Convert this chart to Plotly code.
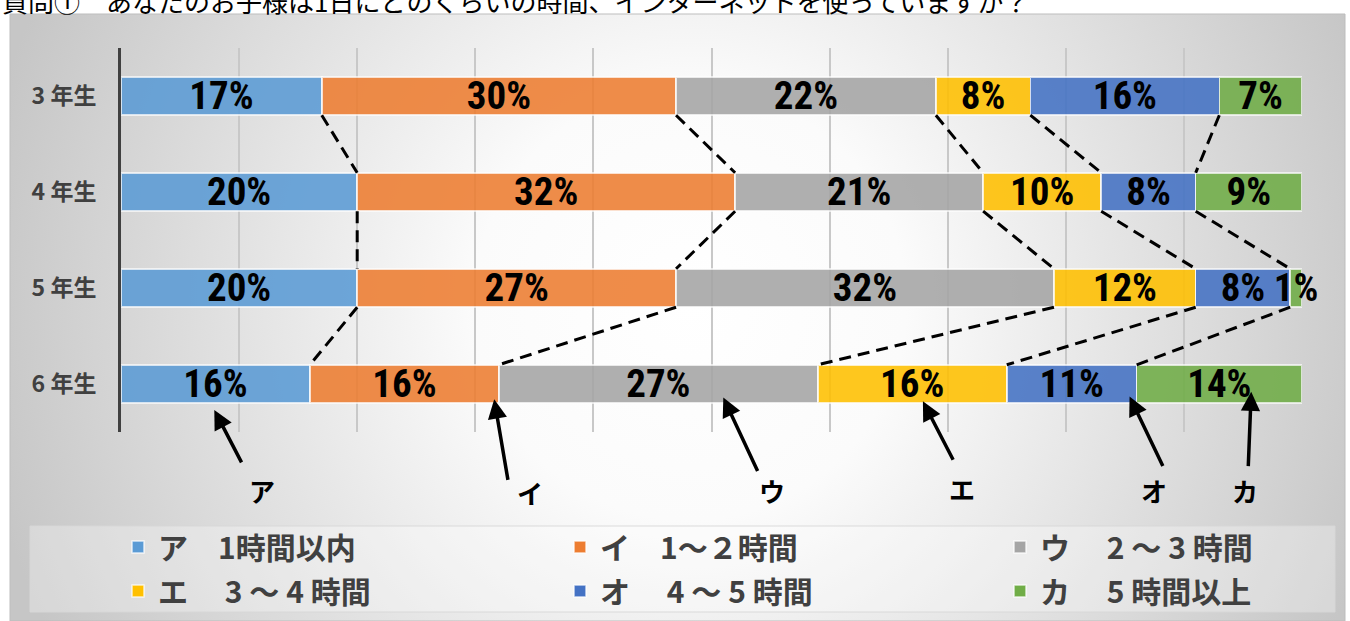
import base64
import plotly.graph_objects as go

# ---------------- data ----------------
grades = ["3 年生", "4 年生", "5 年生", "6 年生"]
categories = ["ア　1時間以内", "イ　1～２時間", "ウ　 2 ～ 3 時間",
              "エ　 3 ～ 4 時間", "オ　 4 ～ 5 時間", "カ　 5 時間以上"]
letters = ["ア", "イ", "ウ", "エ", "オ", "カ"]
within_1h = [17, 20, 20, 16]
h1_to_2 = [30, 32, 27, 16]
h2_to_3 = [22, 21, 32, 27]
h3_to_4 = [8, 10, 12, 16]
h4_to_5 = [16, 8, 8, 11]
over_5h = [7, 9, 1, 14]
title_text = "質問①　あなたのお子様は1日にどのくらいの時間、インターネットを使っていますか？"

series = [within_1h, h1_to_2, h2_to_3, h3_to_4, h4_to_5, over_5h]
colors = ["#5B9BD5", "#ED7D31", "#A5A5A5", "#FFC000", "#4472C4", "#70AD47"]

# ---------------- geometry helpers (styling) ----------------
W, H = 1350, 621
L, R, T, B = 121, 48, 48, 189
PW, PH = W - L - R, H - T - B


def pxx(px):
    return (px - L) / PW


def pxy(py):
    return (H - B - py) / PH


ypos = list(range(len(grades)))
bar_w = 0.4
legend_ids = ["legend", "legend2", "legend3", "legend4", "legend5", "legend6"]

fig = go.Figure()

for i, (name, vals, col) in enumerate(zip(categories, series, colors)):
    fig.add_trace(go.Bar(
        y=ypos, x=vals, name=name, orientation="h", width=bar_w,
        marker=dict(color=col, opacity=0.88,
                    line=dict(color="rgba(255,255,255,0.75)", width=1.5)),
        text=[f"{v}%" for v in vals], textposition="inside",
        insidetextanchor="middle", textangle=0, constraintext="none",
        insidetextfont=dict(family="Roboto Condensed, Liberation Sans Narrow, Liberation Sans, sans-serif",
                            size=39, color="black", weight="bold"),
        cliponaxis=False, hoverinfo="skip",
        legend=legend_ids[i],
    ))

# dashed connectors between cumulative boundaries of adjacent grades
cum = []
for g in range(len(grades)):
    s, row = 0, []
    for ser in series:
        s += ser[g]
        row.append(s)
    cum.append(row)

cx, cy = [], []
for g in range(len(grades) - 1):
    for k in range(len(series) - 1):
        cx += [cum[g][k], cum[g + 1][k], None]
        cy += [ypos[g] + bar_w / 2, ypos[g + 1] - bar_w / 2, None]

fig.add_trace(go.Scatter(x=cx, y=cy, mode="lines", showlegend=False,
                         hoverinfo="skip",
                         line=dict(color="black", width=3, dash="12px,7px")))

# ---------------- background gradient ----------------
bx0, by0, bx1, by1 = 10, 14, 1345, 621
bw, bh = bx1 - bx0, by1 - by0
svg = (f"<svg xmlns='http://www.w3.org/2000/svg' width='{bw}' height='{bh}'>"
       f"<defs><radialGradient id='g' gradientUnits='userSpaceOnUse' cx='680' cy='290' r='720'>"
       "<stop offset='0' stop-color='#ffffff'/><stop offset='0.3' stop-color='#fbfbfb'/>"
       "<stop offset='1' stop-color='#c6c6c6'/></radialGradient></defs>"
       f"<rect width='{bw}' height='{bh}' fill='url(#g)'/></svg>")
src = "data:image/svg+xml;base64," + base64.b64encode(svg.encode()).decode()

fig.add_layout_image(dict(source=src, xref="paper", yref="paper",
                          x=pxx(bx0), y=pxy(by0), sizex=pxx(bx1) - pxx(bx0),
                          sizey=pxy(by0) - pxy(by1), xanchor="left", yanchor="top",
                          sizing="stretch", layer="below"))

shapes = [
    dict(type="rect", xref="paper", yref="paper", x0=pxx(bx0), x1=pxx(bx1),
         y0=pxy(by1), y1=pxy(by0), line=dict(color="#bdbdbd", width=1),
         fillcolor="rgba(0,0,0,0)", layer="below"),
    dict(type="rect", xref="paper", yref="paper", x0=pxx(30), x1=pxx(1335),
         y0=pxy(612), y1=pxy(526), line=dict(color="rgba(215,215,215,0.9)", width=1),
         fillcolor="rgba(255,255,255,0.3)", layer="below"),
]

# ---------------- annotations ----------------
annotations = [dict(text=title_text, xref="paper", yref="paper", x=pxx(0), y=pxy(0),
                    xanchor="left", yanchor="middle", showarrow=False,
                    font=dict(family="Noto Sans CJK JP", size=26, color="black"))]

arrow_tips = [(7.9, 3.27), (31.6, 3.16), (51.0, 3.14), (67.9, 3.18), (85.4, 3.13), (95.7, 3.08)]
arrow_tails = [(28, 54), (14, 82), (35, 75), (31, 60), (34, 71), (-3, 76)]
label_px = [(262, 490), (530, 492), (772, 490), (962, 488), (1154, 490), (1245, 490)]

for (tx, ty), (ax, ay), (lx, ly), letter in zip(arrow_tips, arrow_tails, label_px, letters):
    annotations.append(dict(text="", x=tx, y=ty, xref="x", yref="y", ax=ax, ay=ay,
                            showarrow=True, arrowhead=2, arrowsize=1.1, arrowwidth=3.5,
                            arrowcolor="black", standoff=0))
    annotations.append(dict(text=letter, xref="paper", yref="paper", x=pxx(lx), y=pxy(ly),
                            xanchor="center", yanchor="middle", showarrow=False,
                            font=dict(family="Noto Sans CJK JP", size=26, color="black",
                                      weight="bold")))

legend_font = dict(family="Noto Sans CJK JP", size=30, color="#404040", weight="bold")
legend_sym_x = [138, 580, 1020, 138, 580, 1020]
legend_row_y = [547, 547, 547, 591, 591, 591]
legends = {}
for lid, sx, sy in zip(legend_ids, legend_sym_x, legend_row_y):
    legends[lid] = dict(orientation="h", x=pxx(sx - 20), y=pxy(sy), xanchor="left",
                        yanchor="middle", bgcolor="rgba(0,0,0,0)", font=legend_font,
                        borderwidth=0)

fig.update_layout(
    width=W, height=H,
    margin=dict(l=L, r=R, t=T, b=B, autoexpand=False),
    paper_bgcolor="white", plot_bgcolor="rgba(0,0,0,0)",
    barmode="stack",
    shapes=shapes, annotations=annotations,
    xaxis=dict(range=[0, 100], dtick=10, showgrid=True, gridcolor="#c8c8c8", gridwidth=1.5,
               showticklabels=False, zeroline=False, showline=False, fixedrange=True),
    yaxis=dict(range=[3.5, -0.5], tickvals=ypos, ticktext=grades, showgrid=False,
               zeroline=False, showline=True, linecolor="#404040", linewidth=3,
               ticks="", ticklabelstandoff=17, fixedrange=True,
               tickfont=dict(family="Noto Sans CJK JP", size=23, color="#404040", weight="bold")),
    showlegend=True,
    **legends,
)

fig.write_html("out.html", config={"displayModeBar": False},
               post_script="document.body.style.margin='0px';")
